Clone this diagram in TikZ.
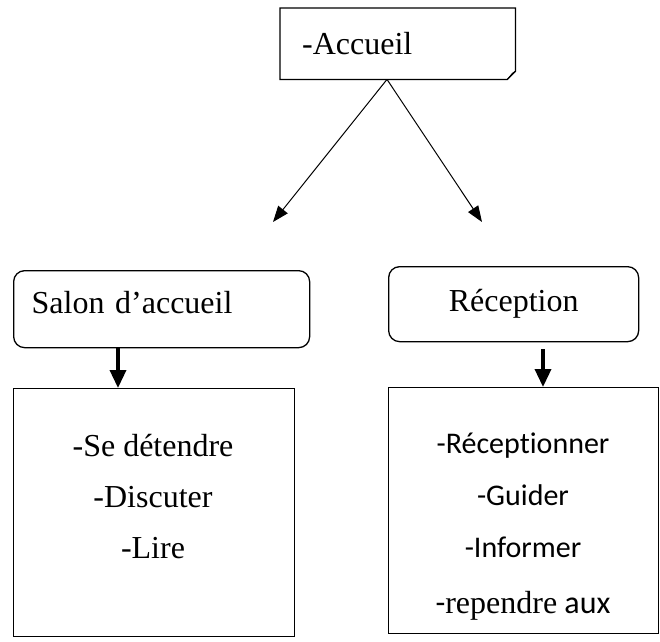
\documentclass[tikz,border=0pt]{standalone}
\usepackage{fontspec}
\setmainfont{Liberation Serif}
\newfontfamily\calib[Ligatures=NoCommon]{Carlito}
\usetikzlibrary{arrows.meta,positioning,calc}

\begin{document}
\begin{tikzpicture}[x=1pt,y=-1pt,
  boite/.style={draw,line width=1.3pt,anchor=north west,inner sep=0pt},
  arrondi/.style={boite,rounded corners=11pt},
  txt/.style={font=\fontsize{32}{38}\selectfont,inner sep=0pt,anchor=base},
  txtc/.style={font=\calib\fontsize{30}{36}\selectfont,inner sep=0pt,anchor=base},
  fine/.style={line width=1pt,-{Triangle[length=16pt,width=12pt]}},
  grosse/.style={line width=3.5pt,-{Triangle[length=18pt,width=16pt]}}]
  \useasboundingbox (0,0) rectangle (660,641);
  % accueil
  \node[anchor=north west,minimum width=235pt,minimum height=71pt,inner xsep=22pt,text width=191pt,align=left,font=\fontsize{32}{38}\selectfont] (acc) at (280,8) {-Accueil};
  \draw[line width=1.3pt] (acc.north west) -- (acc.north east) -- ([yshift=8pt]acc.south east)
    -- ([xshift=-8pt]acc.south east) -- (acc.south west) -- cycle;
  \draw[line width=1pt] ([xshift=-8pt]acc.south east) -- ([xshift=-3pt,yshift=6pt]acc.south east) -- ([yshift=8pt]acc.south east);
  \coordinate (sommet) at ([xshift=107pt]acc.south west);
  \coordinate (pointeG) at (273,222);
  \coordinate (pointeD) at (482,222);
  \draw[fine] (sommet) -- (pointeG);
  \draw[fine] (sommet) -- (pointeD);
  % salon et reception
  \node[arrondi,minimum width=296pt,minimum height=77pt,inner xsep=18pt,text width=260pt,text depth=14pt,align=left,font=\fontsize{32}{38}\selectfont] (salon) at (13,270) {Salon d'accueil};
  \node[arrondi,minimum width=250pt,minimum height=75pt,font=\fontsize{32}{38}\selectfont] (recep) at (388,266) {Réception};
  % listes
  \node[boite,minimum width=281pt,minimum height=248pt] (detente) at (13,388) {};
  \node[boite,minimum width=270pt,minimum height=246pt] (liste) at (388,387) {};
  \foreach \y/\t [count=\i] in {456/{-Se détendre},507/{-Discuter},558/{-Lire}}
    \node[txt] (g\i) at (153,\y) {\t};
  \foreach \y/\t [count=\i] in {453/{-Réceptionner},505/{-Guider},557/{-Informer}}
    \node[txtc] (d\i) at (523,\y) {\t};
  \node[txt] (d4) at (523,613) {{\calib -}rependre{\calib\ aux}};
  \draw[grosse] ([xshift=105pt]salon.south west) -- ([xshift=105pt]detente.north west);
  \draw[grosse] ([xshift=155pt,yshift=-7pt]recep.south west) -- ([xshift=155pt]liste.north west);
\end{tikzpicture}
\end{document}
